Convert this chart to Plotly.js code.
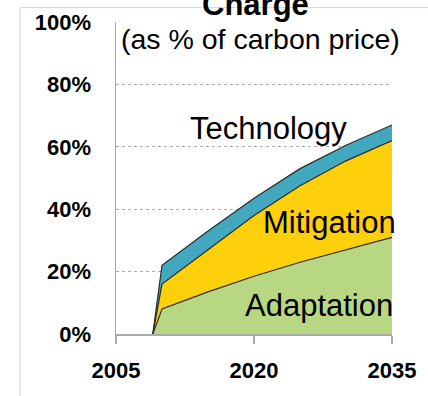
<!DOCTYPE html>
<html>
<head>
<meta charset="utf-8">
<script src="https://cdn.plot.ly/plotly-3.0.1.min.js"></script>
<style>html,body{margin:0;padding:0;background:#fff;}#chart{width:428px;height:396px;}</style>
</head>
<body>
<div id="chart"></div>
<script>
// Data (percent of carbon price), stacked
const years = [2009, 2010, 2015, 2020, 2025, 2030, 2035];
const adaptation = [0, 8, 13.5, 18.5, 23, 27, 31];
const mitigation = [0, 8, 13.5, 19.5, 24.5, 28.5, 31];
const technology = [0, 6, 6, 5.5, 5.5, 5, 5];
const seriesNames = ["Adaptation", "Mitigation", "Technology"];
const xTicks = [2005, 2020, 2035];
const yTicks = [0, 20, 40, 60, 80, 100];
const yTickText = ["0%", "20%", "40%", "60%", "80%", "100%"];

const colors = ["#b8d783", "#fdd00b", "#42a8c0"];
const seriesVals = [adaptation, mitigation, technology];

const traces = seriesVals.map((v, i) => ({
  type: "scatter", mode: "lines", x: years, y: v, name: seriesNames[i],
  stackgroup: "one", fillcolor: colors[i],
  line: {color: "#2a2a2a", width: 1.2}, hoverinfo: "skip"
}));

const tickFont = {family: "Liberation Sans, Arial, sans-serif", size: 22, color: "#000", weight: "bold"};
const labelFont = {family: "Liberation Sans, Arial, sans-serif", size: 31, color: "#000"};

const layout = {
  width: 428, height: 396,
  margin: {l: 116, r: 36, t: 21.5, b: 62},
  paper_bgcolor: "#fff", plot_bgcolor: "#fff",
  showlegend: false,
  xaxis: {
    range: [2005, 2035], tickvals: xTicks, ticktext: xTicks.map(String),
    ticks: "outside", ticklen: 8, tickwidth: 1.5, tickcolor: "#aaa",
    showline: true, linecolor: "#aaa", linewidth: 1.5,
    showgrid: false, zeroline: false, tickfont: tickFont, ticklabelstandoff: 8
  },
  yaxis: {
    range: [0, 100], tickvals: yTicks, ticktext: yTickText,
    ticks: "", showline: true, linecolor: "#aaa", linewidth: 1.5,
    showgrid: true, gridcolor: "#aaa", griddash: "dot", gridwidth: 1,
    zeroline: false, tickfont: tickFont, ticklabelstandoff: 19
  },
  shapes: [
    {type: "rect", xref: "paper", yref: "paper", x0: -0.348, x1: 2, y0: -2, y1: 1.046,
     line: {color: "#d4d4d4", width: 1}, fillcolor: "rgba(0,0,0,0)", layer: "below"}
  ],
  annotations: [
    {xref: "paper", yref: "paper", x: 0.507, y: 1.056, text: "<b>Charge</b>", showarrow: false,
     font: {family: "Liberation Sans, Arial, sans-serif", size: 31, color: "#000"}, xanchor: "center", yanchor: "middle"},
    {xref: "paper", yref: "paper", x: 0.522, y: 0.944, text: "(as % of carbon price)", showarrow: false,
     font: {family: "Liberation Sans, Arial, sans-serif", size: 28.5, color: "#000"}, xanchor: "center", yanchor: "middle"},
    {xref: "x", yref: "y", x: 2021.6, y: 66, text: "Technology", showarrow: false, font: labelFont, xanchor: "center", yanchor: "middle"},
    {xref: "x", yref: "y", x: 2028.2, y: 35.7, text: "Mitigation", showarrow: false, font: labelFont, xanchor: "center", yanchor: "middle"},
    {xref: "x", yref: "y", x: 2027.1, y: 9.1, text: "Adaptation", showarrow: false, font: labelFont, xanchor: "center", yanchor: "middle"}
  ]
};

Plotly.newPlot("chart", traces, layout, {displayModeBar: false, staticPlot: true});
</script>
</body>
</html>
